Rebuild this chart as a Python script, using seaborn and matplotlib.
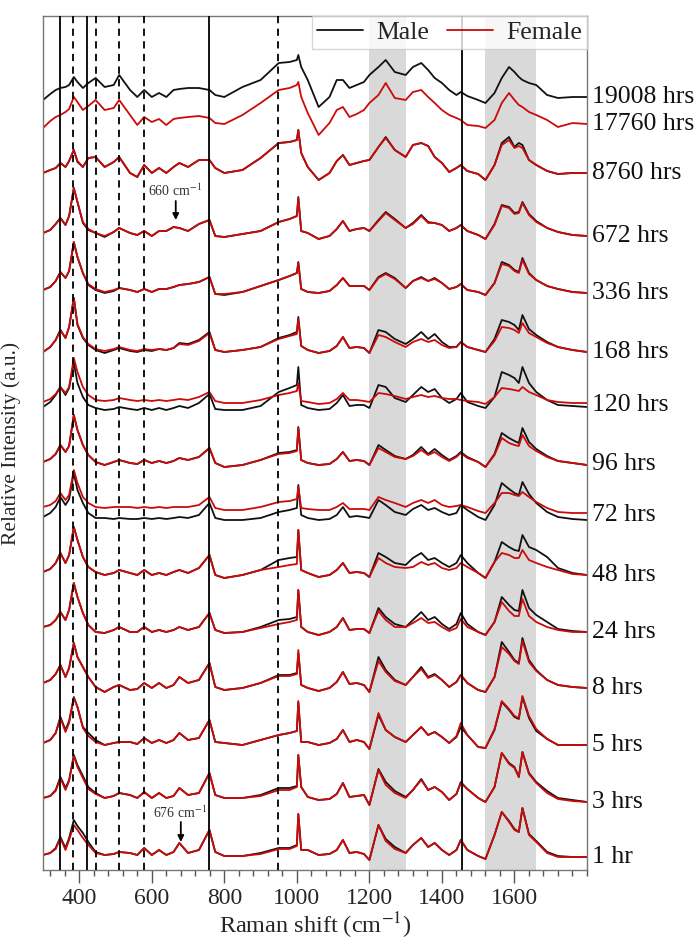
import numpy as np
import pandas as pd
import matplotlib
matplotlib.use('Agg')
import matplotlib.pyplot as plt
import seaborn as sns
from matplotlib.lines import Line2D
from matplotlib.ticker import MultipleLocator
from matplotlib.transforms import blended_transform_factory

# ---------------- data ----------------
wavenumbers = [300, 320, 335, 348, 362, 372, 385, 395, 410, 425,
               445, 470, 495, 510, 540, 560, 579, 600, 620, 640,
               660, 676, 700, 730, 759, 775, 800, 850, 900, 950,
               980, 1000, 1004, 1012, 1030, 1060, 1090, 1110, 1127, 1145,
               1165, 1185, 1200, 1225, 1245, 1270, 1300, 1320, 1343, 1362,
               1380, 1400, 1420, 1440, 1452, 1470, 1500, 1520, 1545, 1565,
               1585, 1600, 1612, 1622, 1640, 1660, 1690, 1720, 1760, 1800]

times = ['1 hr', '3 hrs', '5 hrs', '8 hrs', '24 hrs', '48 hrs', '72 hrs', '96 hrs',
         '120 hrs', '168 hrs', '336 hrs', '672 hrs', '8760 hrs', '17760 hrs', '19008 hrs']

# vertical stacking offset of each spectrum (relative intensity units)
stack_offset = [13, 68, 125, 182, 238, 295, 355, 406, 465, 518, 577, 634, 697, 746, 773]

m_1hr = [2, 4, 9, 20, 9, 19, 37, 31, 24, 15,
         5, 2, 3, 5, 4, 2, 9, 2, 7, 2,
         5, 14, 4, 7, 27, 5, 1, 1, 4, 9,
         9, 12, 43, 7, 7, 2, 3, 7, 17, 4,
         5, 3, -3, 32, 18, 10, 4, 12, 19, 10,
         14, 7, 2, 7, 17, 7, 1, -2, 22, 45,
         36, 28, 25, 49, 23, 16, 5, 1, 0, 0]
f_1hr = [2, 4, 8, 19, 7, 17, 32, 27, 19, 12,
         4, 2, 3, 5, 4, 2, 9, 2, 7, 2,
         5, 14, 4, 7, 27, 5, 1, 1, 3, 8,
         8, 11, 43, 7, 7, 2, 3, 7, 17, 4,
         5, 3, -3, 32, 16, 8, 4, 12, 19, 10,
         14, 7, 2, 7, 17, 7, 1, -2, 22, 45,
         35, 27, 25, 49, 22, 15, 4, 0, 0, 0]
m_3h = [4, 6, 12, 25, 14, 22, 47, 37, 26, 15,
        9, 4, 6, 9, 7, 4, 10, 4, 9, 4,
        6, 14, 7, 9, 29, 7, 4, 4, 7, 14,
        14, 16, 47, 15, 5, 2, 3, 8, 19, 5,
        6, 7, -3, 33, 20, 11, 5, 12, 23, 12,
        15, 10, 2, 8, 20, 13, 4, 0, 15, 49,
        39, 35, 25, 50, 29, 20, 11, 4, 2, 0]
f_3h = [4, 6, 11, 24, 12, 21, 46, 35, 24, 13,
        8, 4, 6, 9, 7, 4, 10, 4, 9, 4,
        6, 14, 7, 9, 29, 7, 4, 4, 6, 12,
        12, 15, 47, 15, 5, 2, 3, 8, 19, 5,
        6, 7, -3, 32, 17, 9, 4, 12, 22, 12,
        15, 10, 2, 8, 19, 13, 4, 0, 15, 49,
        38, 34, 25, 50, 28, 19, 9, 3, 1, 0]
m_5h = [2, 5, 12, 28, 15, 24, 48, 38, 18, 12,
        5, 0, 2, 3, 3, 1, 7, 2, 5, 2,
        5, 12, 5, 7, 25, 3, 2, 0, 5, 10,
        12, 14, 43, 3, 3, 0, 2, 6, 15, 3,
        5, 3, -4, 30, 15, 8, 3, 10, 18, 10,
        13, 8, 2, 8, 18, 10, -2, -3, 15, 43,
        35, 28, 26, 48, 27, 14, 6, 0, 0, 0]
f_5h = [2, 5, 12, 27, 13, 22, 47, 38, 17, 9,
        3, 0, 2, 3, 3, 1, 7, 2, 5, 2,
        5, 12, 5, 7, 25, 3, 2, 0, 5, 10,
        12, 14, 44, 3, 3, 0, 2, 6, 15, 3,
        5, 3, -4, 32, 15, 8, 3, 10, 18, 10,
        13, 8, 2, 9, 22, 10, -2, -3, 16, 44,
        36, 29, 27, 49, 29, 16, 6, 0, 0, 0]
m_8h = [5, 8, 14, 23, 11, 20, 45, 31, 21, 11,
        1, -4, 1, 3, -2, -1, 5, 0, 5, 0,
        3, 11, 5, 8, 25, 1, -2, 0, 5, 13,
        13, 15, 35, 3, 0, -3, 0, 6, 16, 4,
        5, 3, -4, 31, 18, 8, 3, 11, 21, 11,
        14, 8, 1, 6, 13, 5, -2, -4, 11, 46,
        36, 28, 25, 50, 28, 18, 8, 3, 1, 0]
f_8h = [5, 8, 14, 23, 11, 20, 45, 31, 21, 11,
        1, -4, 1, 3, -2, -1, 5, 0, 5, 0,
        3, 11, 5, 8, 25, 1, -2, 0, 5, 12,
        12, 14, 38, 3, 0, -3, 0, 6, 16, 4,
        5, 3, -4, 27, 16, 7, 3, 11, 19, 10,
        13, 8, 1, 6, 13, 5, -2, -4, 11, 41,
        34, 27, 24, 47, 26, 17, 8, 3, 1, 0]
m_24h = [5, 7, 12, 20, 12, 22, 49, 35, 19, 7,
         0, -1, 2, 5, 0, 0, 5, 0, 2, 0,
         2, 5, 2, 5, 19, 2, -1, 0, 5, 12,
         13, 15, 42, 5, 0, -3, 0, 5, 14, 2,
         3, 3, -1, 24, 15, 8, 5, 12, 20, 12,
         15, 8, 3, 8, 19, 8, 0, -3, 10, 35,
         27, 22, 21, 42, 24, 17, 10, 3, 1, 0]
f_24h = [5, 7, 12, 20, 12, 22, 49, 35, 19, 7,
         0, -1, 2, 5, 0, 0, 5, 0, 2, 0,
         2, 5, 2, 5, 19, 2, -1, 0, 4, 8,
         10, 12, 42, 5, 0, -3, 0, 5, 14, 2,
         3, 3, -1, 21, 12, 5, 5, 9, 14, 9,
         10, 5, 1, 4, 13, 5, 0, -3, 10, 30,
         21, 16, 16, 33, 16, 10, 5, 2, 0, 0]
m_48h = [3, 6, 12, 22, 12, 20, 48, 35, 18, 8,
         3, 0, 2, 5, 2, 0, 5, 0, 2, 0,
         3, 5, 2, 7, 20, 0, -3, 0, 5, 15,
         17, 18, 45, 5, 2, -2, 0, 5, 12, 2,
         3, 2, -2, 22, 18, 12, 10, 17, 22, 15,
         17, 12, 8, 12, 20, 12, 2, -3, 13, 33,
         28, 25, 24, 40, 28, 25, 18, 7, 2, 0]
f_48h = [3, 6, 12, 22, 12, 20, 48, 35, 18, 8,
         3, 0, 2, 5, 2, 0, 5, 0, 2, 0,
         3, 5, 2, 7, 20, 0, -3, 0, 5, 8,
         10, 11, 45, 5, 2, -2, 0, 5, 12, 2,
         3, 2, -2, 17, 12, 8, 7, 8, 13, 10,
         12, 7, 5, 7, 12, 8, 2, -3, 13, 22,
         20, 17, 17, 25, 15, 12, 8, 5, 1, 0]
m_72h = [-2, 2, 8, 18, 10, 16, 42, 25, 12, 2,
         -3, -3, -4, -3, -4, -4, -3, -4, -3, -4,
         -3, -2, -3, 0, 12, -3, -5, -5, -3, 3,
         5, 7, 30, 0, -3, -5, -4, 0, 8, -2,
         -1, -2, -3, 15, 10, 3, 0, 6, 10, 5,
         7, 3, 0, 2, 10, 5, -2, -5, 10, 32,
         26, 22, 20, 33, 21, 12, 3, -2, -4, -5]
f_72h = [8, 10, 14, 22, 15, 20, 45, 32, 18, 12,
         8, 7, 8, 8, 8, 7, 8, 7, 8, 7,
         8, 8, 8, 10, 18, 7, 5, 5, 8, 13,
         14, 16, 28, 7, 6, 5, 5, 8, 12, 6,
         6, 6, 5, 18, 15, 12, 8, 12, 15, 12,
         15, 10, 8, 9, 10, 8, 4, 2, 12, 22,
         22, 20, 19, 23, 18, 13, 7, 3, 2, 2]
m_96h = [2, 5, 10, 19, 12, 18, 49, 34, 19, 9,
         2, -1, 2, 4, 1, 0, 4, 1, 3, 1,
         3, 6, 4, 7, 16, 1, -3, -1, 4, 11,
         12, 14, 37, 4, 1, -1, 0, 5, 12, 3,
         4, 3, -1, 19, 14, 8, 5, 9, 17, 10,
         15, 9, 4, 8, 12, 7, 2, -3, 10, 31,
         26, 23, 21, 36, 22, 15, 8, 3, 1, -1]
f_96h = [2, 5, 10, 19, 12, 18, 49, 34, 19, 9,
         2, -1, 2, 4, 1, 0, 4, 1, 3, 1,
         3, 6, 4, 7, 16, 1, -3, -1, 4, 10,
         11, 13, 36, 4, 1, -1, 0, 5, 12, 3,
         4, 3, -1, 16, 12, 7, 5, 8, 14, 9,
         12, 7, 3, 7, 11, 6, 2, -3, 9, 26,
         21, 19, 18, 29, 18, 13, 7, 3, 1, -1]
m_120h = [-2, 3, 10, 18, 10, 17, 42, 22, 8, 0,
          -3, -5, -4, -2, -4, -5, -3, -5, -3, -5,
          -3, -1, -3, 2, 11, -4, -5, -5, -1, 13,
          17, 20, 38, 0, -3, -5, -4, 2, 10, -1,
          0, 0, -3, 20, 18, 7, 3, 10, 18, 13,
          16, 7, 2, 6, 12, 3, -1, -3, 8, 33,
          30, 27, 22, 38, 22, 13, 5, 0, -1, -2]
f_120h = [3, 6, 11, 18, 12, 18, 47, 33, 18, 10,
          5, 4, 5, 7, 5, 4, 5, 4, 5, 4,
          5, 6, 5, 8, 13, 4, 2, 2, 5, 10,
          12, 14, 22, 4, 3, 1, 2, 6, 12, 5,
          5, 4, 3, 12, 11, 9, 6, 8, 10, 8,
          9, 7, 6, 6, 5, 4, 3, 1, 8, 17,
          16, 15, 14, 18, 13, 10, 5, 3, 2, 2]
m_168h = [0, 5, 12, 22, 14, 25, 54, 27, 14, 7,
          2, -1, 2, 4, 1, 0, 2, 1, 3, 2,
          4, 9, 8, 12, 20, 2, 0, 2, 5, 14,
          17, 20, 35, 6, 2, -1, 1, 6, 15, 4,
          5, 4, -1, 22, 20, 13, 8, 13, 20, 13,
          18, 10, 5, 5, 10, 5, 2, 0, 13, 32,
          30, 27, 22, 37, 23, 17, 10, 5, 2, 0]
f_168h = [0, 5, 12, 22, 14, 25, 54, 28, 15, 8,
          3, 1, 3, 5, 2, 1, 3, 2, 3, 2,
          4, 8, 7, 11, 19, 2, 0, 2, 5, 13,
          16, 18, 33, 6, 2, -1, 1, 6, 15, 4,
          5, 4, -1, 17, 15, 10, 5, 10, 13, 10,
          12, 7, 4, 5, 10, 5, 2, 0, 11, 25,
          24, 22, 19, 29, 19, 15, 9, 5, 2, 0]
m_336h = [3, 6, 12, 21, 15, 22, 51, 36, 20, 8,
          3, 0, 2, 5, 3, 1, 4, 1, 4, 4,
          6, 8, 9, 11, 16, -1, -2, 1, 7, 13,
          17, 20, 31, 4, 1, 0, 2, 8, 15, 7,
          7, 7, 3, 16, 20, 15, 5, 12, 16, 12,
          15, 10, 4, 6, 9, 3, 1, -2, 10, 31,
          28, 23, 21, 35, 20, 13, 7, 4, 1, 0]
f_336h = [3, 6, 12, 21, 15, 22, 51, 36, 20, 9,
          4, 1, 3, 5, 3, 1, 4, 1, 4, 4,
          6, 8, 9, 11, 16, -1, -1, 1, 7, 13,
          17, 20, 30, 4, 1, 0, 2, 8, 15, 7,
          7, 7, 3, 15, 19, 14, 5, 12, 15, 12,
          14, 10, 4, 6, 9, 3, 1, -2, 10, 29,
          27, 22, 20, 33, 19, 13, 7, 4, 1, 0]
m_672h = [3, 6, 12, 18, 11, 20, 48, 34, 13, 6,
          3, -1, 4, 8, 3, 1, 5, 0, 5, 5,
          9, 8, 5, 12, 16, 0, -1, 2, 5, 14,
          17, 20, 39, 5, 3, -3, 0, 7, 15, 5,
          7, 8, 5, 16, 24, 17, 8, 13, 21, 14,
          13, 11, 5, 8, 11, 5, 1, -3, 12, 31,
          29, 23, 24, 34, 22, 15, 8, 4, 1, 0]
f_672h = [3, 6, 12, 18, 11, 20, 48, 34, 14, 7,
          3, 0, 4, 8, 3, 1, 5, 0, 5, 5,
          9, 8, 5, 12, 16, 0, -1, 2, 5, 14,
          17, 20, 38, 5, 3, -3, 0, 7, 15, 5,
          7, 8, 5, 15, 23, 16, 8, 12, 20, 13,
          13, 11, 5, 8, 11, 5, 1, -3, 11, 30,
          28, 22, 23, 33, 21, 14, 8, 4, 1, 0]
m_8760h = [0, 3, 5, 10, 6, 12, 23, 11, 6, 15,
           16, 6, 11, 16, 0, -4, 8, 0, 5, 0,
           6, 10, 6, 13, 13, 5, 0, 3, 15, 30,
           31, 33, 43, 20, 6, -7, 0, 12, 18, 8,
           10, 12, 13, 26, 36, 23, 16, 28, 30, 27,
           16, 10, 1, 5, 8, 2, -1, -7, 8, 30,
           36, 26, 30, 28, 13, 8, 2, -1, 0, 0]
f_8760h = [0, 3, 5, 10, 6, 12, 23, 12, 6, 15,
           16, 6, 11, 16, 0, -4, 8, 0, 5, 0,
           6, 10, 6, 13, 13, 5, 0, 3, 15, 30,
           31, 33, 43, 20, 6, -7, 0, 12, 18, 8,
           10, 12, 13, 26, 35, 23, 16, 28, 30, 27,
           16, 10, 1, 5, 8, 2, -1, -7, 8, 28,
           33, 25, 27, 25, 13, 8, 2, -1, 0, 0]
f_17760h = [-4, 3, 7, 9, 12, 15, 27, 22, 14, 18,
            24, 14, 16, 24, 9, -1, 7, 2, 5, -1,
            5, 6, 7, 8, 6, 1, 0, 9, 21, 34,
            36, 39, 42, 27, 11, -11, 1, 14, 17, 7,
            10, 14, 21, 29, 41, 26, 24, 32, 34, 27,
            21, 14, 9, 6, 4, -1, -2, -4, 4, 21,
            31, 24, 19, 17, 12, 9, 4, -3, 1, 0]
m_19008h = [-3, 3, 7, 9, 10, 12, 20, 15, 9, 14,
            19, 10, 12, 22, 7, 0, 7, 0, 4, 0,
            7, 8, 9, 9, 7, 2, 0, 10, 17, 34,
            35, 37, 42, 30, 17, -10, 0, 17, 17, 9,
            12, 15, 22, 30, 37, 25, 22, 30, 34, 27,
            19, 14, 7, 2, 5, 1, -3, -6, 4, 19,
            30, 25, 20, 17, 14, 12, 2, -1, 0, 0]

male_series = [m_1hr, m_3h, m_5h, m_8h, m_24h, m_48h, m_72h, m_96h, m_120h,
               m_168h, m_336h, m_672h, m_8760h, None, m_19008h]
female_series = [f_1hr, f_3h, f_5h, f_8h, f_24h, f_48h, f_72h, f_96h, f_120h,
                 f_168h, f_336h, f_672h, f_8760h, f_17760h, None]

solid_marks = [348, 421, 759, 1456]
dashed_marks = [382, 445, 510, 579, 949]
shaded_bands = [(1200, 1300), (1520, 1660)]

# ---------------- build table ----------------
rows = []
for t, off, m, f in zip(times, stack_offset, male_series, female_series):
    if m is not None:
        for w, h in zip(wavenumbers, m):
            rows.append((w, off + h, 'Male', t))
    if f is not None:
        for w, h in zip(wavenumbers, f):
            rows.append((w, off + h, 'Female', t))
df = pd.DataFrame(rows, columns=['wn', 'y', 'sex', 'time'])

# ---------------- style ----------------
sns.set_theme(style='white')
plt.rcParams['font.family'] = ['Liberation Serif', 'DejaVu Serif']
plt.rcParams['mathtext.fontset'] = 'stix'
FS_TICK = 17
FS_LAB = 18.5
BLACK = '#111111'
RED = '#cc0a0a'

fig = plt.figure(figsize=(6.99, 9.39), dpi=100)
ax = fig.add_axes([43 / 699, 69 / 939, 544 / 699, 854 / 939])

for a, b in shaded_bands:
    ax.axvspan(a, b, color='#d9d9d9', lw=0, zorder=0)

sns.lineplot(data=df, x='wn', y='y', hue='sex', units='time', estimator=None,
             sort=False, hue_order=['Male', 'Female'],
             palette={'Male': BLACK, 'Female': RED}, linewidth=1.3,
             legend=False, ax=ax, zorder=2)

for x in solid_marks:
    ax.axvline(x, color='black', lw=1.3, zorder=3)
for x in dashed_marks:
    ax.axvline(x, color='black', lw=1.3, ls=(0, (4, 3)), zorder=3)

ax.set_xlim(300, 1800)
ax.set_ylim(0, 854)
ax.xaxis.set_minor_locator(MultipleLocator(40))
ax.set_xticks([400, 600, 800, 1000, 1200, 1400, 1600])
ax.set_yticks([])
ax.tick_params(axis='x', which='major', direction='out', length=9, width=1,
               color='#555555', labelsize=FS_TICK, pad=4, bottom=True)
ax.tick_params(axis='x', which='minor', direction='out', length=4.5, width=1,
               color='#555555', bottom=True)
for s in ax.spines.values():
    s.set_color('#777777')
    s.set_linewidth(1.0)

ax.set_xlabel('Raman shift (cm$^{-1}$)', fontsize=17.5)
ax.xaxis.set_label_coords(0.5, -0.047)
ax.set_ylabel('Relative Intensity (a.u.)', fontsize=15.5)
ax.yaxis.set_label_coords(-0.04, 0.5)

trans = blended_transform_factory(ax.transAxes, ax.transData)
for t, off in zip(times, stack_offset):
    ax.text(1.009, off, t, transform=trans, ha='left', va='center',
            fontsize=FS_LAB, color='#111111')

# annotations
ax.annotate('', xy=(666, 650), xytext=(666, 669),
            arrowprops=dict(arrowstyle='-|>', color='black', lw=1.3,
                            mutation_scale=9, shrinkA=0, shrinkB=0), zorder=4)
ax.text(664, 679, '660 cm$^{-1}$', ha='center', va='center', fontsize=10,
        color='#333333')
ax.annotate('', xy=(680, 28), xytext=(680, 48),
            arrowprops=dict(arrowstyle='-|>', color='black', lw=1.3,
                            mutation_scale=9, shrinkA=0, shrinkB=0), zorder=4)
ax.text(678, 57, '676 cm$^{-1}$', ha='center', va='center', fontsize=10,
        color='#333333')

handles = [Line2D([], [], color=BLACK, lw=1.3), Line2D([], [], color=RED, lw=1.3)]
leg = ax.legend(handles, ['Male', 'Female'], loc='upper right',
                bbox_to_anchor=(1, 1), borderaxespad=0, ncol=2, fontsize=FS_LAB,
                frameon=True, fancybox=False, edgecolor='#cccccc',
                handlelength=1.8, handletextpad=0.5, columnspacing=0.7,
                borderpad=0.2)
leg.get_frame().set_linewidth(1.0)
leg.set_zorder(5)

fig.savefig('out.png', dpi=100)
